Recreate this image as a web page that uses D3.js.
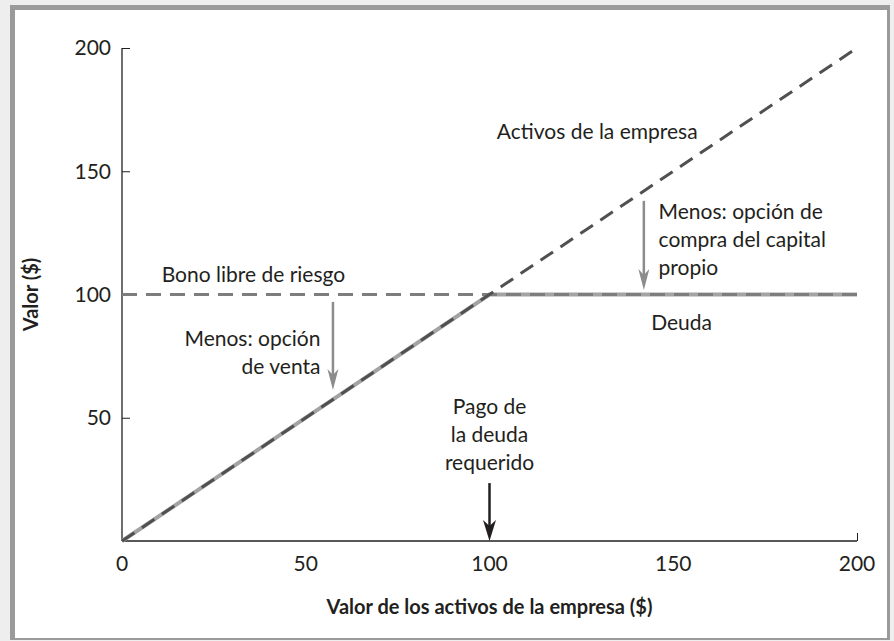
<!DOCTYPE html>
<html lang="es">
<head>
<meta charset="utf-8">
<title>Deuda con riesgo</title>
<script src="https://cdn.jsdelivr.net/npm/d3@7"></script>
<style>
    body { margin: 0; background: #eeeeee; }
    svg text { font-family: Lato, "Open Sans", sans-serif; fill: #231f20; }
</style>
</head>
<body>
<script>
// data
const xTicks = [0, 50, 100, 150, 200];
const yTicks = [50, 100, 150, 200];
const assetsLine = [[0, 0], [200, 200]];
const bondLine = [[0, 100], [200, 100]];
const debtLine = [[0, 0], [100, 100], [200, 100]];

const labels = [
    { x: 102, y: 166, lines: ["Activos de la empresa"], anchor: "start" },
    { x: 146, y: 133.5, lines: ["Menos: opción de", "compra del capital", "propio"], anchor: "start" },
    { x: 10.8, y: 108, lines: ["Bono libre de riesgo"], anchor: "start" },
    { x: 144, y: 88.5, lines: ["Deuda"], anchor: "start" },
    { x: 54, y: 82, lines: ["Menos: opción", "de venta"], anchor: "end" },
    { x: 100, y: 54.5, lines: ["Pago de", "la deuda", "requerido"], anchor: "middle" }
];
// arrows: x, from y, to y
const arrows = [
    { x: 57.4, y0: 97, y1: 61.3, color: "#8c8c8c", w: 2.5, hw: 5.5 },
    { x: 142, y0: 138, y1: 101.8, color: "#8c8c8c", w: 2.5, hw: 5.5 },
    { x: 100, y0: 23.5, y1: 0, color: "#231f20", w: 2.5, hw: 6.5 }
];

const W = 894, H = 641;
const svg = d3.select("body").append("svg")
    .attr("width", W)
    .attr("height", H);

// frame
svg.append("rect").attr("x", 10).attr("y", 5).attr("width", 880).attr("height", 635).attr("fill", "#9a9a9a");
svg.append("rect").attr("x", 15).attr("y", 10).attr("width", 872).attr("height", 628).attr("fill", "#ffffff");

const x = d3.scaleLinear().domain([0, 200]).range([122, 857]);
const y = d3.scaleLinear().domain([0, 200]).range([541, 48]);

// axes
const yAxis = svg.append("g")
    .attr("transform", `translate(${x(0)},0)`)
    .call(d3.axisRight(y).tickValues(yTicks).tickSize(8).tickFormat(""));
yAxis.select(".domain").attr("d", `M0,${y(200)}H0V${y(0)}`);
yAxis.selectAll("line").attr("stroke", "#231f20");
yAxis.select(".domain").attr("stroke", "#231f20").attr("stroke-width", 1.3);

svg.append("g").selectAll("text").data(yTicks).join("text")
    .attr("x", x(0) - 11)
    .attr("y", d => y(d))
    .attr("dy", "0.35em")
    .attr("text-anchor", "end")
    .attr("font-size", 21)
    .text(d => d);

const xAxis = svg.append("g")
    .attr("transform", `translate(0,${y(0)})`)
    .call(d3.axisTop(x).tickValues([200]).tickSize(8).tickFormat(""));
xAxis.select(".domain").attr("d", `M${x(0)},0H${x(200)}`).attr("stroke", "#231f20").attr("stroke-width", 1.3);
xAxis.selectAll("line").attr("stroke", "#231f20");

svg.append("g").selectAll("text").data(xTicks).join("text")
    .attr("x", d => x(d))
    .attr("y", y(0) + 23)
    .attr("dy", "0.35em")
    .attr("text-anchor", "middle")
    .attr("font-size", 21)
    .text(d => d);

svg.append("text")
    .attr("x", (x(0) + x(200)) / 2)
    .attr("y", 607)
    .attr("dy", "0.35em")
    .attr("text-anchor", "middle")
    .attr("font-size", 20)
    .attr("font-weight", "bold")
    .text("Valor de los activos de la empresa ($)");

svg.append("text")
    .attr("transform", `translate(31,${y(100)}) rotate(-90)`)
    .attr("dy", "0.35em")
    .attr("text-anchor", "middle")
    .attr("font-size", 20)
    .attr("font-weight", "bold")
    .text("Valor ($)");

// lines
const line = d3.line().x(d => x(d[0])).y(d => y(d[1]));
svg.append("path").attr("d", line(debtLine))
    .attr("fill", "none").attr("stroke", "#a3a3a3").attr("stroke-width", 4);
svg.append("path").attr("d", line(bondLine))
    .attr("fill", "none").attr("stroke", "#7d7d7d").attr("stroke-width", 3)
    .attr("stroke-dasharray", "15 9");
svg.append("path").attr("d", line(assetsLine))
    .attr("fill", "none").attr("stroke", "#505050").attr("stroke-width", 3)
    .attr("stroke-dasharray", "15 9");

// arrows
arrows.forEach(a => {
    const px = x(a.x), p0 = y(a.y0), p1 = y(a.y1);
    svg.append("line")
        .attr("x1", px).attr("x2", px)
        .attr("y1", p0).attr("y2", p1 - 12)
        .attr("stroke", a.color).attr("stroke-width", a.w);
    svg.append("path")
        .attr("d", `M${px},${p1} L${px - a.hw},${p1 - 21} L${px},${p1 - 15} L${px + a.hw},${p1 - 21} Z`)
        .attr("fill", a.color);
});

// annotations
labels.forEach(l => {
    const t = svg.append("text")
        .attr("x", x(l.x))
        .attr("y", y(l.y))
        .attr("text-anchor", l.anchor)
        .attr("font-size", 21);
    l.lines.forEach((s, i) => {
        t.append("tspan").attr("x", x(l.x)).attr("dy", i === 0 ? "0.35em" : 28).text(s);
    });
});
</script>
</body>
</html>
